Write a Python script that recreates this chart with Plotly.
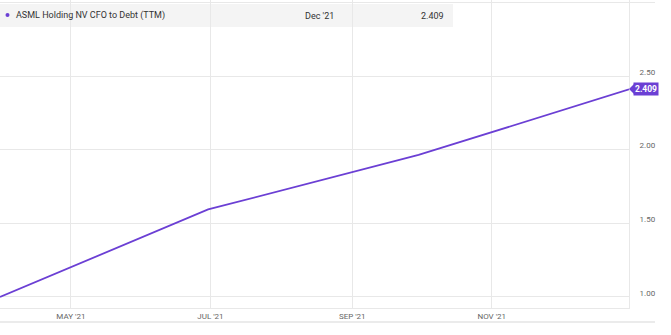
import plotly.graph_objects as go

dates = ["2021-03-31", "2021-06-30", "2021-09-30", "2021-12-31"]
values = [1.00, 1.594, 1.964, 2.409]
series_name = "ASML Holding NV CFO to Debt (TTM)"
x_tick_dates = ["2021-05-01", "2021-07-01", "2021-09-01", "2021-11-01"]
x_tick_text = ["MAY '21", "JUL '21", "SEP '21", "NOV '21"]
y_tick_vals = [1.0, 1.5, 2.0, 2.5, 3.0]
y_tick_text = ["1.00", "1.50", "2.00", "2.50", ""]

W, H = 671, 335
L, R, T, B = 0, 42, 0, 27
PW, PH = W - L - R, H - T - B
PURPLE = "#6b3fd4"
GRID = "#e8e8e8"

def px_x(p):
    return (p - L) / PW

def px_y(p):
    return (H - B - p) / PH

fig = go.Figure()
fig.add_trace(go.Scatter(
    x=dates, y=values, mode="lines",
    line=dict(color=PURPLE, width=1.8),
    hoverinfo="skip", showlegend=False,
))

shapes = [
    dict(type="rect", xref="paper", yref="paper", x0=px_x(0), x1=px_x(453),
         y0=px_y(27), y1=px_y(4), fillcolor="#f4f4f4", line=dict(width=0), layer="below"),
    dict(type="line", xref="paper", yref="paper", x0=px_x(0), x1=px_x(655),
         y0=px_y(2.5), y1=px_y(2.5), line=dict(color=GRID, width=1)),
    dict(type="line", xref="paper", yref="paper", x0=px_x(0), x1=px_x(655),
         y0=px_y(322), y1=px_y(322), line=dict(color="#d8d8d8", width=1.2)),
    dict(type="circle", xref="paper", yref="paper", x0=px_x(5.5), x1=px_x(9.5),
         y0=px_y(17), y1=px_y(13), fillcolor=PURPLE, line=dict(width=0)),
    dict(type="path", xref="paper", yref="paper",
         path=f"M {px_x(629)} {px_y(89)} L {px_x(634)} {px_y(84)} L {px_x(634)} {px_y(94)} Z",
         fillcolor=PURPLE, line=dict(width=0)),
]

annotations = [
    dict(xref="paper", yref="paper", x=px_x(14), y=px_y(15.5), xanchor="left", yanchor="middle",
         text=series_name, showarrow=False, font=dict(family="Roboto", size=9, color="#333333")),
    dict(xref="paper", yref="paper", x=px_x(336), y=px_y(15.5), xanchor="right", yanchor="middle",
         text="Dec '21", showarrow=False, font=dict(family="Roboto", size=9, color="#333333")),
    dict(xref="paper", yref="paper", x=px_x(446), y=px_y(15.5), xanchor="right", yanchor="middle",
         text=f"{values[-1]:.3f}", showarrow=False, font=dict(family="Roboto", size=9, color="#333333")),
    dict(xref="paper", yref="y", x=px_x(633), y=values[-1], xanchor="left", yanchor="middle",
         text=f"<b>{values[-1]:.3f}</b>", showarrow=False, bgcolor=PURPLE, borderpad=1,
         font=dict(family="Roboto", size=8.5, color="white")),
]

fig.update_layout(
    width=W, height=H,
    margin=dict(l=L, r=R, t=T, b=B),
    paper_bgcolor="white", plot_bgcolor="white",
    shapes=shapes, annotations=annotations,
    xaxis=dict(
        type="date", range=[dates[0], dates[-1]],
        tickvals=x_tick_dates, ticktext=x_tick_text,
        showgrid=True, gridcolor=GRID, gridwidth=1,
        showline=True, linecolor=GRID, linewidth=1,
        ticks="", tickfont=dict(family="Roboto", size=8, color="#666666"),
        zeroline=False, fixedrange=True,
    ),
    yaxis=dict(
        side="right", range=[0.925, 3.016],
        tickvals=y_tick_vals, ticktext=y_tick_text,
        showgrid=True, gridcolor=GRID, gridwidth=1,
        showline=True, linecolor=GRID, linewidth=1,
        ticks="", ticklabelstandoff=8, ticklabelshift=-4,
        tickfont=dict(family="Roboto", size=8, color="#666666"),
        zeroline=False, fixedrange=True,
    ),
)

fig.write_html("out.html", config={"displayModeBar": False})
